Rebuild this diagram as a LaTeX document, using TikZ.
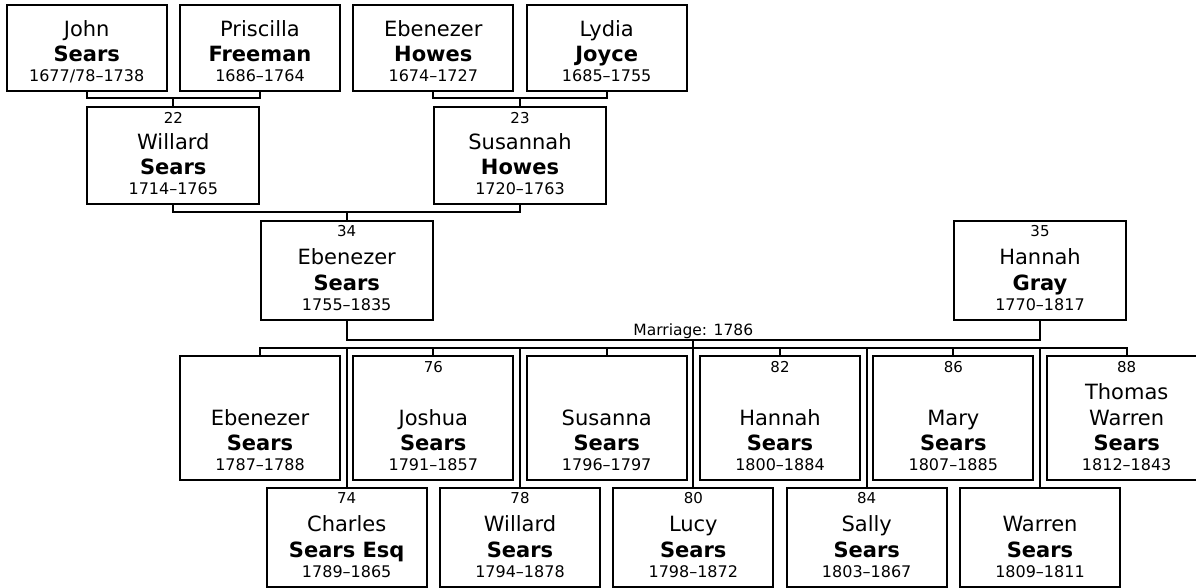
\documentclass[tikz,border=0pt]{standalone}
\usepackage{fontspec}
\setmainfont{DejaVu Sans}
\tikzset{
  pbox/.style={draw=black, line width=2pt, fill=white, rectangle, inner sep=0pt},
  conn/.style={draw=black, line width=2pt},
  numtxt/.style={inner sep=0pt, font=\fontsize{15}{17}\selectfont},
  nametxt/.style={inner sep=0pt, font=\fontsize{21}{25}\selectfont},
  surtxt/.style={inner sep=0pt, font=\fontsize{21}{25}\selectfont\bfseries},
  yeartxt/.style={inner sep=0pt, font=\fontsize{16}{18}\selectfont},
  marrtxt/.style={inner sep=0pt, font=\fontsize{15.5}{17}\selectfont},
}
\newcommand\personbox[9]{%
  \node[pbox, minimum width=#4pt, minimum height=#5pt, anchor=north] (#1) at (#2,#3) {};
  \node[numtxt, anchor=base] at ([yshift=-17pt]#1.north) {#6};
  \node[nametxt, anchor=base] at ([yshift=56pt]#1.south) {#7};
  \node[surtxt, anchor=base] at ([yshift=30.5pt]#1.south) {#8};
  \node[yeartxt, anchor=base] at ([yshift=10.5pt]#1.south) {#9};
}
\begin{document}
\begin{tikzpicture}[x=1pt, y=-1pt]
\fill[white] (0,0) rectangle (1196,587);
\useasboundingbox (0,0) rectangle (1196,587);

% generation 1
\personbox{john}{86.7}{4}{160}{86}{}{John}{Sears}{1677/78–1738}
\personbox{priscilla}{260}{4}{160}{86}{}{Priscilla}{Freeman}{1686–1764}
\personbox{ebhowes}{433.3}{4}{160}{86}{}{Ebenezer}{Howes}{1674–1727}
\personbox{lydia}{606.7}{4}{160}{86}{}{Lydia}{Joyce}{1685–1755}

% generation 2
\personbox{willard}{173.3}{106}{172}{97}{22}{Willard}{Sears}{1714–1765}
\personbox{susannah}{520}{106}{172}{97}{23}{Susannah}{Howes}{1720–1763}

% generation 3
\personbox{ebsears}{346.7}{219.5}{172}{99}{34}{Ebenezer}{Sears}{1755–1835}
\personbox{hannah}{1040}{219.5}{172}{99}{35}{Hannah}{Gray}{1770–1817}

% children, upper row
\personbox{ca}{260}{355}{160}{124}{}{Ebenezer}{Sears}{1787–1788}
\personbox{cb}{433.3}{355}{160}{124}{76}{Joshua}{Sears}{1791–1857}
\personbox{cc}{606.7}{355}{160}{124}{}{Susanna}{Sears}{1796–1797}
\personbox{cd}{780}{355}{160}{124}{82}{Hannah}{Sears}{1800–1884}
\personbox{ce}{953.3}{355}{160}{124}{86}{Mary}{Sears}{1807–1885}
\personbox{cf}{1126.7}{355}{160}{124}{88}{Warren}{Sears}{1812–1843}
\node[nametxt, anchor=base] (cfthomas) at ([yshift=82pt]cf.south) {Thomas};

% children, lower row
\personbox{cg}{346.7}{486.5}{160}{99}{74}{Charles}{Sears Esq}{1789–1865}
\personbox{ch}{520}{486.5}{160}{99}{78}{Willard}{Sears}{1794–1878}
\personbox{ci}{693.3}{486.5}{160}{99}{80}{Lucy}{Sears}{1798–1872}
\personbox{cj}{866.7}{486.5}{160}{99}{84}{Sally}{Sears}{1803–1867}
\personbox{ck}{1040}{486.5}{160}{99}{}{Warren}{Sears}{1809–1811}

% couple brackets
\coordinate (b1) at (173.3,98.3);
\coordinate (b2) at (520,98.3);
\coordinate (b3) at (346.7,212);
\coordinate (mar) at (693.3,340);
\coordinate (kids) at (693.3,347.7);

\draw[conn] (john.south) |- (b1) -| (priscilla.south);
\draw[conn] (b1) -- (willard.north);
\draw[conn] (ebhowes.south) |- (b2) -| (lydia.south);
\draw[conn] (b2) -- (susannah.north);
\draw[conn] (willard.south) |- (b3) -| (susannah.south);
\draw[conn] (b3) -- (ebsears.north);

% marriage
\draw[conn] (ebsears.south) |- (mar) -| (hannah.south);
\node[marrtxt, anchor=base] (marlabel) at (693.3,335) {Marriage: 1786};

% children bar
\draw[conn] (ca.north) -- (ca.north |- kids) -- (cf.north |- kids) -- (cf.north);
\draw[conn] (mar) -- (kids);
\foreach \c in {cb,cc,cd,ce} {
  \draw[conn] (\c.north) -- (\c.north |- kids);
}
\foreach \c in {cg,ch,ci,cj,ck} {
  \draw[conn] (\c.north |- kids) -- (\c.north);
}
\end{tikzpicture}
\end{document}
